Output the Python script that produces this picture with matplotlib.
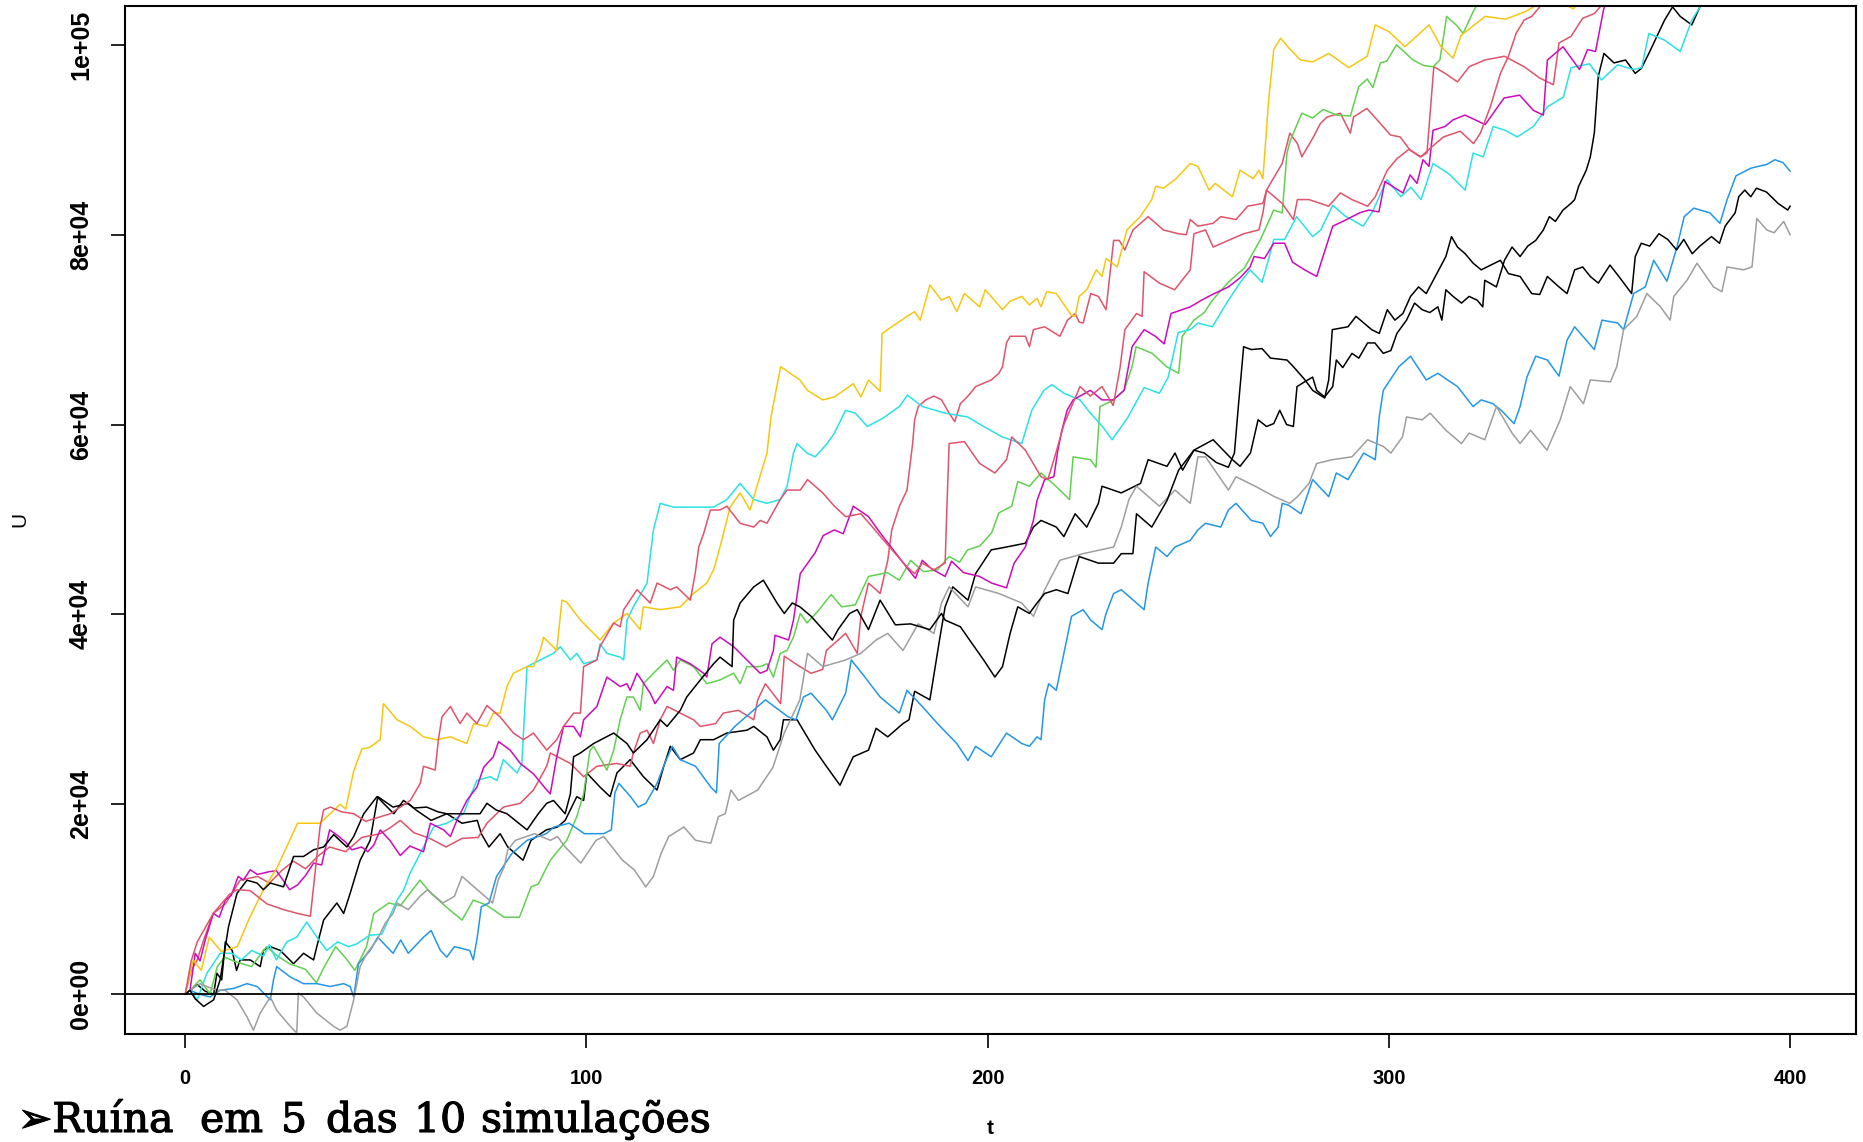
import numpy as np
import matplotlib
matplotlib.use("Agg")
import matplotlib.pyplot as plt
import matplotlib.patheffects as pe

# surplus paths U(t), U in thousands
black1 = [(0, 0), (1.2, 0.4), (3, 1), (5, 0.3), (7.1, 0), (7.9, 2.2), (9.1, 1.5), (10, 5.5), (11.7, 4.6),
          (12.8, 2.5), (13.7, 3.6), (16.2, 3.6), (18.7, 2.9), (19.5, 4.6), (21.2, 5), (23.7, 4.6), (27, 3.2),
          (29.5, 4.3), (32, 3.6), (32.8, 5), (34.5, 7.8), (37.8, 9.6), (39.5, 8.5), (41.1, 10.6), (43.6, 14.1),
          (46.1, 16.2), (48, 20.8), (51.8, 19.7), (55.6, 20.1), (57.5, 19.4), (61.3, 18.3), (65.2, 19), (69, 18),
          (72.8, 18.3), (73.8, 16.9), (75.7, 15.5), (78.5, 16.9), (80.4, 15.5), (84.2, 14.1), (86.2, 16.2),
          (90, 17.3), (92.8, 17.6), (94.7, 18.3), (97.6, 20.8), (99.3, 20.4), (100.1, 23.3), (103.4, 21.8),
          (105.9, 20.8), (107.6, 23.3), (110.9, 24.7), (114.2, 22.9), (117.6, 21.5), (119.2, 23.9), (120.9, 26.1),
          (123.4, 24.7), (126.7, 25.4), (128.4, 26.8), (131.7, 26.8), (135, 27.5), (140, 27.8), (141.7, 28.2),
          (145, 27.1), (146.6, 25.7), (148.3, 26.8), (149.1, 28.9), (152.5, 28.9), (157, 25.7), (159.8, 24),
          (163.2, 22), (164.6, 23.3), (166.5, 25), (170.3, 25.7), (172.2, 28), (175.1, 27.1), (178.9, 28.5),
          (180.4, 28.9), (181.8, 31.9), (185.6, 31), (188, 37.3), (189.4, 40.8), (191.3, 42.9), (195.1, 41.5),
          (197, 44.3), (200.9, 46.8), (204.7, 47.1), (209.4, 47.5), (211.4, 49.2), (213.3, 49.9), (217.1, 49.2),
          (219, 48.2), (221.8, 50.6), (224.7, 49.2), (227.6, 51.7), (228.5, 53.5), (233.3, 52.8), (238.1, 53.8),
          (240, 56.3), (244.7, 55.6), (246.7, 57), (248.6, 55.2), (251.4, 57.3), (256.2, 58.4), (261, 56.3),
          (262.9, 55.6), (265.5, 57), (267.4, 60.5), (269.5, 59.8), (271.3, 60.1), (272.8, 61.5), (274.5, 60),
          (276.2, 59.8), (277.1, 64), (279, 64.5), (281, 65), (282, 63.6), (284, 62.9), (286, 64), (286.9, 66.8),
          (288.5, 66), (290.8, 67.5), (292.5, 67), (294.7, 68.6), (296.5, 68.6), (298.6, 67.5), (300.5, 67.8),
          (302, 69.6), (304.4, 71), (306.4, 72.8), (308.3, 72.1), (310.2, 71.8), (312.2, 72.4), (313.2, 71),
          (314.2, 74.2), (316, 73.5), (318.1, 72.8), (320, 73.5), (322, 73.1), (323.4, 72.4), (323.9, 75.2),
          (326.8, 74.5), (328.8, 77.3), (330.7, 78.7), (332.7, 77.7), (334.6, 78.8), (336.6, 79.4), (338.5, 80.5),
          (340, 81.9), (341.5, 81.4), (343.4, 82.6), (345.4, 83.3), (346.3, 83.7), (347.3, 85.1), (349.2, 86.8),
          (350.2, 88.2), (351.2, 90.7), (352.2, 96.7), (353.6, 99.1), (356.1, 98.1), (359, 98.4), (361.4, 97),
          (362.9, 97.5), (364.8, 99.1), (366.8, 100.9), (368.7, 102.6), (370.7, 104), (372.6, 103),
          (375.5, 102.1), (377.5, 104), (380, 106)]

red1 = [(0, 0), (1.5, 2.5), (3, 3.6), (4.6, 5.7), (7, 8.5), (10, 9.5), (13.7, 12), (18, 12.4), (21, 11.7),
        (24, 13), (27, 14), (30, 13.2), (33, 14.5), (36, 15.5), (40, 15), (44, 16.5), (48.6, 16.9), (51, 17.5),
        (53.6, 18.3), (57, 17), (61, 16.4), (65, 15.5), (69, 16.4), (73, 16.5), (75.2, 18), (79.3, 19.7),
        (83.5, 20.1), (86.8, 21.5), (90.1, 24), (91, 25.4), (96, 24.3), (99.3, 22.9), (102.6, 24), (107.6, 24.3),
        (110.9, 24), (111.7, 25.4), (113.4, 27.5), (115.1, 27.8), (116.7, 26.4), (118.4, 28.9), (120.1, 30.3),
        (123.4, 29.6), (126.7, 28.9), (128.4, 28.2), (132.2, 28.5), (134.1, 29.6), (137.9, 29.9), (141.7, 28.9),
        (142.7, 31), (144.6, 32.7), (148.4, 30.6), (149.3, 35.6), (153.2, 34.5), (156, 33.8), (158.9, 34.2),
        (159.8, 36.2), (164.6, 38), (167.5, 35.9), (168.4, 39.8), (170.3, 43.3), (172.2, 42.6), (173.2, 42.2),
        (175.1, 45.7), (176.1, 48.9), (178, 51.4), (179.9, 53.1), (181.3, 58), (181.8, 60.5), (182.7, 61.9),
        (184.6, 62.6), (186.6, 63), (188.5, 62.6), (190.4, 61.2), (191.8, 60.3), (193.2, 62.2), (195.1, 63),
        (197, 64), (200.9, 64.7), (202.8, 65.4), (203.7, 66.1), (204.7, 68.6), (205.6, 69.3), (209.4, 69.3),
        (210.4, 68.2), (211.4, 70), (214.2, 70.3), (218, 69.3), (219.9, 71), (221.8, 71.7), (222.8, 70.8),
        (223.8, 70.7), (225.7, 73.8), (227.6, 73.5), (229.5, 72.1), (231.4, 79.4), (232.8, 79.4), (234.2, 78.4),
        (236.2, 80.5), (240, 81.9), (243.8, 80.5), (247.6, 80.1), (249.5, 80), (250.5, 81.6), (252.4, 80.9),
        (256.2, 81.2), (258.1, 81.9), (261.9, 81.6), (264.8, 83), (268.6, 83.3), (269.5, 84.7), (273.4, 87.5),
        (275.3, 90.7), (277.2, 89.6), (278.3, 88.2), (281.2, 90.3), (282.9, 91.7), (284.6, 92.4), (287.9, 92.8),
        (290.4, 90.7), (291.2, 92.4), (294.5, 93.3), (297.9, 91.7), (300.4, 90.5), (302.8, 90.3), (305.3, 88.9),
        (307.8, 88.2), (309.5, 88.6), (311.2, 97.7), (314, 97), (317.1, 96.1), (320, 97.7), (323.9, 98.4),
        (328.8, 98.8), (333.7, 97.7), (337.6, 96.5), (341, 95.8), (342.4, 100.2), (345.4, 100.9), (348.3, 102.8),
        (351.2, 103.3), (354.1, 104.7), (357, 107)]

green = [(0, 0), (1.2, 0.4), (3.7, 1.5), (6.2, 0), (8, 2.9), (9.8, 3.9), (12, 3.5), (16.5, 2.9), (20.3, 5),
         (23, 4), (26, 3.2), (30, 2.6), (32.7, 1.2), (34.7, 2.9), (37.5, 5), (40, 3.8), (42.3, 2.5), (45.2, 5),
         (47, 8.5), (50.8, 9.6), (53.6, 9.3), (58.5, 12), (61.3, 10.6), (65, 9.2), (69, 7.8), (71.8, 9.9),
         (75, 9.4), (79.5, 8.1), (83.3, 8.1), (86.2, 11.3), (88, 11.6), (91, 14.1), (93.7, 15.5), (95.1, 16.2),
         (97.6, 18.7), (99.3, 21.1), (100.9, 25.7), (101.8, 26.1), (105.1, 23.6), (106.8, 25.7), (108.4, 28.9),
         (110.1, 31.3), (111.7, 31.3), (113.4, 29.9), (114.2, 32.7), (116.7, 33.8), (120.1, 35.2), (121.7, 34.1),
         (123.4, 35.2), (126.7, 34.5), (130, 32.7), (133.3, 33.1), (136.7, 33.8), (138.3, 32.7), (140, 34.5),
         (143.3, 34.5), (145, 34.8), (146.6, 33.4), (148.3, 35.9), (150, 36.2), (151.6, 37.6), (153.3, 40.1),
         (155, 39.1), (158, 40.5), (161, 42.1), (163.6, 40.8), (167, 41), (170.3, 44), (175, 44.4), (178, 43.6),
         (180.8, 45.7), (184, 44.5), (187.5, 44.7), (190.4, 46.1), (193, 45.5), (195, 46.8), (198, 47.2),
         (201, 48.6), (202.8, 50.7), (206, 51.4), (207.5, 54), (210.4, 53.5), (213.3, 54.9), (217, 53.5),
         (220.4, 52.1), (221.3, 56.6), (225.6, 56.3), (227, 55.5), (228, 61.9), (231, 62.5), (234, 63.6),
         (236, 66.1), (237, 68.2), (241, 67.5), (244.6, 66.1), (247.6, 65.4), (248.5, 69.3), (251.4, 71),
         (254, 71.8), (256, 73.1), (260, 75), (264, 76.5), (268, 79.5), (271.3, 82.6), (273.4, 82.3),
         (274.6, 88.6), (275.4, 89.9), (278.3, 92.8), (281, 92.3), (283.6, 93.2), (287, 92.6), (290.4, 92.5),
         (292.5, 95.6), (294.6, 96.4), (296, 95.5), (297.9, 98.1), (299.5, 98.3), (301.9, 100), (304, 99.2),
         (306, 98.4), (308.8, 97.8), (311, 97.7), (312.7, 98.4), (314.4, 103), (317, 102), (318.5, 101.2),
         (321, 103.5), (323, 105), (326, 107)]

blue = [(0, 0), (1.2, 0.4), (3.5, 0), (6.2, -0.3), (8.7, 0.4), (12.1, 0.6), (15.4, 1.1), (17.9, 0.8),
        (21.2, -0.6), (22, 1.5), (22.8, 2.9), (26.2, 1.8), (29.5, 1.1), (32.8, 1.1), (36.1, 0.8), (39.5, 1.1),
        (41.1, 0.8), (42, -0.3), (43.2, 3.2), (46.1, 4.6), (48, 6), (51.8, 4.3), (53.7, 5.7), (55.6, 4.3),
        (59.4, 6), (61.3, 6.7), (63.6, 4.6), (65.2, 3.9), (67.1, 5), (70.9, 4.6), (71.8, 3.6), (72.8, 6),
        (73.8, 9.2), (75.7, 9.6), (77.6, 12.4), (81.4, 14.8), (85.2, 16.2), (90, 16.9), (91.9, 17.6), (95.7, 18),
        (99.5, 16.9), (104.3, 16.9), (106.2, 17.3), (107.1, 21.2), (108.1, 22.2), (111, 20.8), (112.9, 19.7),
        (114.8, 20.1), (117.6, 22.2), (119.5, 24.3), (121.4, 26.1), (123.4, 24.7), (127.2, 24), (131, 21.8),
        (132.4, 21.2), (133.1, 26.4), (137, 28.2), (140.8, 29.6), (144.6, 31), (150.3, 29.2), (152.2, 28.9),
        (154.1, 31.3), (156, 31.7), (159.8, 29.9), (161.3, 28.9), (164.6, 31.7), (166, 35.2), (169.4, 33.4),
        (173.2, 31.3), (178, 29.6), (179.9, 32), (183.7, 30.3), (187.5, 28.5), (192.3, 26.4), (195.1, 24.6),
        (197, 26.1), (200.9, 25), (204.7, 27.5), (208.5, 26.4), (210.4, 26.1), (212.3, 27.1), (213.3, 26.8),
        (214.2, 31), (215.2, 32.7), (217.1, 32), (219, 35.9), (220.9, 39.8), (223.8, 40.5), (225.7, 39.4),
        (228.5, 38.4), (229.5, 40.1), (231.4, 42.2), (233.3, 42.6), (239, 40.5), (240, 43.3), (241.9, 47.1),
        (244.7, 46.1), (246.7, 47.1), (250.5, 47.8), (252.4, 48.9), (254.3, 49.6), (258.1, 49.2), (260, 51),
        (261.9, 51.7), (265.7, 49.9), (268.6, 49.6), (270.5, 48.2), (272.4, 49.2), (273.4, 51.7), (275, 51.5),
        (278.1, 50.6), (281, 54.2), (285, 52.4), (286.9, 54.9), (289.8, 54.2), (293.7, 57), (296.6, 56.3),
        (297.6, 60.8), (298.6, 63.6), (302.5, 66.1), (305.4, 67.2), (309.3, 64.7), (312.2, 65.4), (317.1, 64),
        (321, 61.9), (323, 62.6), (325.9, 62.2), (328, 61.5), (331.2, 60.1), (332.7, 61.9), (334.4, 65),
        (336.6, 67.2), (339.5, 66.8), (342.4, 65.1), (344.4, 68.9), (346.3, 70.3), (351.2, 67.9), (353.1, 71),
        (357, 70.7), (358.5, 70), (361, 73.8), (363.9, 74.5), (366, 77.3), (369.3, 75.1), (371.8, 78.7),
        (373.6, 81.9), (376, 82.8), (380, 82.3), (382.5, 81.2), (384.3, 83.7), (386.5, 86.2), (390.2, 87),
        (392.1, 87.2), (394.2, 87.4), (396.2, 87.9), (398.2, 87.6), (400, 86.7)]

cyan = [(0, 0), (1.2, 0.4), (3, -0.6), (5.4, 2.2), (7, 3.2), (8.7, 4.3), (11.6, 4.3), (14, 3.6), (16.6, 4.6),
        (19.5, 4), (21, 5.2), (22.7, 3.6), (25.3, 5.5), (27.8, 6), (30.3, 7.6), (32.8, 6), (35.3, 4.6),
        (38, 5.5), (40.7, 5), (42.8, 5.3), (46, 6.2), (49, 6.3), (52.8, 9.9), (54.5, 11), (56, 12.7),
        (59.4, 15.5), (61.9, 17.6), (65.2, 18), (69.4, 19), (71, 20.8), (72.7, 22.5), (76, 22.9), (77.7, 22.5),
        (79.3, 24.7), (82.7, 23.3), (83.9, 24.3), (84.3, 27.5), (85.2, 34.5), (88.5, 35.2), (91.8, 35.9),
        (93.5, 36.6), (96, 35.2), (97.6, 35.9), (99.3, 34.8), (102.6, 35.2), (103.4, 36.9), (105.1, 35.9),
        (108.4, 35.5), (109.3, 35.2), (110.1, 39.4), (111.7, 40.8), (115.1, 43.3), (116.7, 48.9), (118.4, 51.7),
        (121.7, 51.3), (125, 51.3), (128.4, 51.3), (131.7, 51.3), (135, 52.1), (138.3, 53.8), (141.7, 52.1),
        (145, 51.7), (148.3, 52.1), (150, 53.5), (151.6, 57), (152.5, 58), (155, 57), (157, 56.6), (160, 58),
        (161.8, 59.1), (164.6, 61.5), (167, 61.2), (170, 59.8), (174, 60.7), (178, 61.9), (180, 63.1),
        (183.7, 61.9), (189.4, 61.2), (195, 60.8), (199, 59.8), (203.6, 58.7), (208.5, 58), (211, 61.5),
        (214, 63.6), (216, 64.2), (219, 63.3), (223, 62.6), (225.6, 61.2), (228.6, 59.8), (231, 58.4),
        (235, 60.8), (239, 63.9), (242.8, 63.3), (245, 65), (247.5, 69.7), (250.5, 70), (252.4, 70.7),
        (256, 70.3), (260, 73.1), (263, 75), (265.4, 76.3), (268.4, 75), (270, 77.4), (271.3, 79.5), (274, 79.5),
        (277, 81.9), (281, 79.8), (283, 80.5), (286, 83.1), (289, 82), (293.6, 80.9), (296, 82.5), (299.5, 85.8),
        (303, 84), (305.5, 85), (308, 83.7), (311, 87.5), (315, 86.4), (319, 84.7), (321, 88.6), (323.5, 88.2),
        (326, 91.4), (329, 91), (332, 90.3), (336, 91.4), (339.6, 93.5), (343.5, 94.5), (345.4, 97.6), (350, 98),
        (353, 96.3), (357, 97.9), (361, 97.4), (363, 97.6), (364.8, 101.2), (368.7, 100.5), (372.6, 99.3),
        (375.5, 102.6), (378, 104.3), (381, 107)]

magenta = [(0, 0), (1.2, 0.4), (2.5, 4.3), (3.7, 3.5), (5, 5.7), (7, 8.5), (8.5, 8.1), (10, 9.9), (11.5, 10.4),
           (13.2, 12.4), (14.5, 12), (16.2, 13.1), (18, 12.6), (21, 12.9), (22.7, 13), (24.4, 12), (26, 11),
           (28, 11.5), (30, 12.5), (32, 13.8), (34, 13.6), (36, 17.3), (38, 16.7), (40, 16), (41.5, 15.2),
           (44, 15.5), (45.5, 15), (47, 15.7), (48.6, 17.3), (51, 16.2), (53.6, 14.6), (56, 15.6), (59.4, 15),
           (61.1, 18), (64.4, 17.3), (66.1, 16.6), (67.7, 18.3), (70.2, 20.4), (72.7, 21.8), (74.4, 23.9),
           (76.8, 25), (78.1, 26.6), (81, 25.7), (83.5, 24.3), (86.8, 23.2), (90.1, 21.5), (91, 21.1), (92.6, 25),
           (94.3, 28.2), (96.8, 28.2), (98.5, 27.1), (99.3, 28.9), (102.6, 30.3), (104.3, 32.4), (105.1, 33.4),
           (108.4, 32.4), (110.1, 32.7), (110.9, 32), (112.6, 33.8), (115.9, 31.7), (117.1, 30.6), (120.1, 32.4),
           (121.7, 32), (122.5, 35.5), (125.9, 34.8), (129.2, 33.8), (130, 33.4), (131.3, 36.9), (133.3, 37.6),
           (136.7, 36.6), (140, 35.2), (143.3, 33.8), (145, 34.1), (146.6, 36.2), (147, 37.8), (150.4, 37.3),
           (151.6, 39.4), (153.3, 44.3), (157, 46.5), (159, 48.3), (161.8, 48.9), (164, 48.5), (166.5, 51.4),
           (170.3, 50.3), (173.2, 48.6), (177, 46.5), (180.3, 44.7), (182, 43.8), (183.7, 45.7), (186, 44.8),
           (189.4, 44), (191, 45.6), (194, 44.4), (198, 44), (201, 43.3), (204.7, 42.8), (206.6, 45.4),
           (209.4, 47.1), (211.4, 49.9), (212.3, 52), (214.2, 54.2), (216.5, 54.5), (217.5, 57.3), (218.5, 59.4),
           (219.8, 61.5), (221.3, 62.6), (223, 63), (225.6, 63.6), (228.5, 62.6), (231.3, 62.6), (234, 63.6),
           (236, 68.2), (239, 70), (241.8, 69.3), (244, 68.5), (245.7, 71.7), (250.5, 72.4), (253.3, 73.1),
           (256, 73.7), (260, 74.5), (263, 75.5), (265.4, 76.6), (266.4, 77.7), (269, 77.5), (271.3, 79.1),
           (274, 79.1), (276, 77.1), (279, 76.3), (282, 75.6), (286, 80.9), (289, 81.5), (292.7, 82.3), (295, 82.6),
           (297.5, 82.4), (299, 85.6), (303.5, 84.4), (305.3, 86.3), (307, 85.4), (308.5, 87.9), (310, 87.2),
           (311, 91), (314, 91.4), (316, 92.1), (319, 92.6), (322, 92), (324, 91.6), (328.7, 94.4), (332.6, 94.7),
           (336, 93.1), (338.5, 92.6), (339.5, 98.4), (343.4, 99.8), (346.5, 98), (347.5, 97.4), (349.5, 99.5),
           (351.5, 99.3), (353.5, 103.7), (356, 107)]

yellow = [(0, 0), (2, 3.6), (4, 2.5), (6, 6), (9, 4.5), (13, 5), (16, 8), (19.5, 11), (23, 13.4), (28, 18),
          (33.6, 18), (38.6, 20), (40, 19.5), (42, 23.5), (44, 25.8), (46, 26), (48.6, 26.8), (49.4, 30.6),
          (52.8, 28.9), (56.1, 28.2), (59.4, 27.1), (62.7, 26.8), (66.1, 27.1), (70.2, 26.4), (71.9, 28.5),
          (75.2, 28.2), (76.8, 29.6), (78.5, 29.6), (80.2, 32.4), (81.8, 33.8), (85.2, 34.5), (86.8, 34.5),
          (88.5, 36.2), (89.3, 37.6), (92.6, 36.2), (93.9, 41.5), (95.1, 41.3), (98.5, 39.4), (101.8, 38),
          (103.4, 37.3), (106.8, 39.1), (110.1, 40.1), (113.4, 38.4), (114.2, 40.8), (118.4, 40.5), (123.4, 40.8),
          (126.7, 42.2), (130, 43.3), (131.7, 44.7), (133.3, 47.1), (135.8, 51.3), (138.3, 52.8), (140.8, 51),
          (142.5, 53.5), (145, 57), (146, 60.8), (148.4, 66.1), (153.2, 64.7), (155.1, 63.6), (158.9, 62.6),
          (161.8, 62.9), (166.5, 64.3), (168.4, 62.9), (170.3, 64.7), (173.2, 63.5), (173.7, 69.6), (176.1, 70.3),
          (179.9, 71.4), (181.8, 71.9), (183.2, 71), (185.6, 74.7), (188.5, 73.1), (190.4, 73.5), (192.3, 71.9),
          (194.2, 73.8), (198, 72.4), (199.4, 74.2), (203.7, 72.1), (205.6, 73), (208.5, 73.5), (210.4, 72.6),
          (212.3, 73.3), (213.3, 72.4), (214.7, 74), (217.1, 73.8), (220.9, 71.5), (221.8, 71.4), (222.8, 73.5),
          (224.7, 74.2), (227.1, 76.3), (228.5, 75.6), (229.5, 77.5), (232.3, 76.6), (234.7, 80.5), (238, 81.9),
          (240.9, 83.7), (241.9, 85.1), (243.8, 84.9), (246.7, 85.8), (250.5, 87.5), (252.4, 87.2), (255.2, 84.7),
          (256.7, 85.4), (261, 84), (262.9, 86.8), (266.2, 85.9), (267.6, 86.8), (268.6, 85.9), (270, 94),
          (271.3, 99.5), (273, 100.7), (275, 99.7), (278, 98.4), (281, 98.2), (285, 99.1), (290, 97.6),
          (294.6, 98.8), (296.6, 102.1), (300, 101.4), (304, 99.8), (310, 102.1), (313, 99.8), (316, 98.6),
          (318, 101), (324, 103), (329, 102.7), (334, 103.5), (340, 105), (346, 103.8), (350, 106)]

gray = [(0, 0), (1.2, 0.4), (3.7, 1.1), (5.4, 0.8), (7.9, 0.4), (10, 0.4), (12.9, -0.6), (15.4, -2.4),
        (17, -3.8), (18.7, -2), (21.2, -0.3), (22.8, -1.7), (26.2, -3.4), (27.8, -4.1), (28.2, 0.1), (29.5, -0.3),
        (32.8, -2), (37, -3.4), (38.6, -3.8), (40.3, -3.4), (42, -0.6), (43.6, 2.9), (45.3, 4.3), (47.8, 5.7),
        (49.9, 7.5), (51.8, 8.5), (52.8, 9.6), (55.6, 8.9), (58.5, 10.3), (60.4, 11), (64.2, 9.6), (67.1, 10.3),
        (69, 12.4), (72.8, 11), (76.6, 9.6), (78, 12), (79.5, 13.4), (80.4, 15.2), (82.3, 16.2), (87.1, 16.9),
        (91, 16.2), (92.8, 16.6), (94.7, 15.5), (98.6, 13.8), (102.4, 16.2), (104.3, 16.6), (109, 14.1),
        (111.9, 13.1), (114.8, 11.3), (116.7, 12.4), (118.6, 14.8), (120.5, 16.6), (124.3, 17.6), (127.2, 16.2),
        (131, 15.9), (132.9, 18.7), (134.6, 19), (136, 21.5), (137.9, 20.4), (142.7, 21.5), (146.5, 23.9),
        (149.3, 27.5), (153.2, 31), (155.1, 35.9), (158.9, 34.5), (164.6, 35.2), (168.4, 35.9), (172.2, 37.3),
        (175.1, 38), (178.9, 36.2), (182.7, 39), (186.6, 38), (188.5, 41.2), (190.4, 42.9), (195.1, 40.8),
        (197, 42.9), (202.8, 42.2), (208.5, 41.2), (211.4, 39.8), (214.2, 42.6), (218, 45.7), (223.8, 46.4),
        (231.4, 47.1), (233.3, 49.2), (235.2, 52.1), (237.1, 53.5), (242.8, 51.4), (246.7, 53.1), (250.5, 51.7),
        (252.4, 56.6), (254.3, 56.6), (260, 53.1), (261.9, 54.5), (266.7, 53.5), (271.5, 52.4), (275.3, 51.7),
        (277.2, 52.4), (280.1, 53.8), (282, 55.9), (285.9, 56.3), (290.8, 56.6), (294.7, 58.4), (298.6, 57.7),
        (300.5, 57), (303.4, 58.7), (304.4, 60.8), (308.3, 60.5), (310.3, 61.2), (314.2, 59.4), (318.1, 58),
        (320, 59.1), (323.9, 58.4), (326.8, 61.9), (330.7, 59.1), (332.7, 58), (335.3, 59.4), (339.4, 57.3),
        (342.7, 60.5), (345.2, 64), (348.5, 62.2), (350.2, 64.7), (355.2, 64.5), (356.8, 66.1), (358.5, 70),
        (361.8, 71.4), (364.3, 73.8), (367.7, 72.4), (370.1, 71), (371, 73.5), (374.3, 75.2), (376.8, 77),
        (380.9, 74.5), (383, 74), (384.3, 76.6), (388.4, 76.3), (390.5, 76.6), (391.7, 81.7), (394.2, 80.5),
        (396, 80.2), (398.4, 81.4), (400, 80)]

black2 = [(0, 0), (1.2, 0.4), (2.5, -0.5), (4.6, -1.3), (7.1, -0.6), (8.7, 1.5), (10.8, 7.1), (12.9, 10.6),
          (15.4, 12), (17.9, 11.7), (19.5, 11), (21.2, 11.7), (24.5, 11.3), (27, 14.5), (29.5, 14.5), (32, 15.2),
          (34.5, 15.5), (37, 16.8), (40.3, 15.5), (42, 16.6), (44.5, 19), (47.8, 20.8), (52, 19), (54.4, 20.4),
          (57, 19.6), (60.2, 19.7), (63, 19.2), (65.2, 19), (69.4, 19), (73.5, 19), (75.2, 20.1), (77.5, 19.4),
          (80.2, 19), (85.2, 17.3), (88, 19), (90.1, 20.1), (91.8, 20.4), (94.7, 19), (96, 21.1), (96.8, 25),
          (98.5, 25.4), (101.8, 26.4), (106.8, 27.5), (110.1, 26.4), (111.7, 25.4), (115.1, 26.8), (118.4, 28.9),
          (120.1, 28.2), (123.4, 29.9), (125, 31.3), (128.4, 33.1), (131.7, 34.8), (133.3, 35.5), (136.3, 34.5),
          (136.7, 39.4), (138.3, 41.2), (141.7, 42.9), (144.1, 43.6), (147.5, 41.2), (149.3, 40.1), (151.3, 41.2),
          (153.2, 40.8), (156, 39.8), (161.3, 37.3), (162.7, 38.4), (165.6, 40.1), (167.5, 40.5), (170.3, 38.4),
          (173.2, 41.5), (177, 38.9), (180.8, 39), (185.6, 38.4), (188.5, 40.1), (189.4, 39.4), (193.2, 38.7),
          (196, 37), (199, 35.2), (201.8, 33.4), (203.7, 34.5), (205.6, 38), (207.5, 40.8), (210.4, 40.1),
          (212.3, 41.2), (214.2, 42.2), (217.1, 42.6), (220, 42.2), (222.8, 46.1), (227.6, 45.4), (231.4, 45.4),
          (233.3, 46.4), (236.2, 46.4), (237.1, 50.6), (240.9, 49.2), (244.7, 52), (247.6, 55.2), (251.4, 57.3),
          (254, 57), (257, 56), (260, 55.5), (261.5, 57), (262.5, 62), (263.8, 68.2), (265.7, 67.9), (268.4, 68),
          (270.5, 67), (274.6, 66.8), (276.2, 66.1), (279.1, 64.7), (281, 63.6), (284, 62.8), (285, 64.7),
          (285.9, 70), (289.8, 70.3), (291.8, 71.4), (295.7, 70), (297.6, 69.6), (299.6, 72.1), (301.5, 71),
          (303.5, 71.7), (305.4, 73.5), (307.4, 74.5), (309.3, 73.8), (314.2, 77.7), (315.6, 79.8), (317.1, 78.7),
          (319, 78), (321, 77), (323, 76.3), (327.8, 77.3), (329.8, 75.9), (332.7, 75.6), (335.6, 73.8),
          (337.6, 73.7), (339.5, 75.6), (342.4, 74.5), (344.4, 73.8), (346.3, 76.3), (348.3, 76.6), (350.2, 75.6),
          (352.2, 74.9), (355.1, 76.8), (357.5, 75.5), (360.5, 73.8), (361.4, 77.7), (362.9, 79.1), (365, 78.8),
          (367.3, 80.1), (369.5, 79.5), (371.7, 78.4), (373.5, 79.5), (375.6, 78), (377.5, 78.8), (380.4, 79.8),
          (382.4, 79.1), (383.8, 80.9), (386.3, 82.3), (387.2, 84), (388.7, 84.7), (390.2, 84), (391.6, 84.9),
          (394.1, 84.5), (397, 83.3), (399.4, 82.6), (400, 83)]

red2 = [(0, 0), (1.5, 3.5), (3, 5.5), (5, 7), (7, 8.5), (9, 9.5), (11, 10.5), (13, 11), (16.2, 10.9),
        (20.4, 9.5), (24.5, 8.9), (28, 8.5), (31.2, 8.2), (33.6, 17.6), (34.5, 19.4), (36.2, 19.7), (39, 19.2),
        (42, 19), (45, 18.2), (48, 18.6), (51.1, 19), (56.1, 20.4), (58.6, 22.2), (59.4, 24), (62.3, 23.6),
        (63.1, 26.8), (64, 29.2), (66.1, 30.3), (68.5, 28.5), (70.2, 29.6), (72.7, 28.5), (75.2, 30.4),
        (78.5, 29.2), (81.8, 27.5), (84.3, 26.8), (86.8, 27.5), (90.1, 25.7), (92.6, 26.8), (94.3, 28.2),
        (96.8, 29.6), (98.5, 29.6), (99.3, 34.5), (102.6, 35.2), (103.4, 36.6), (106.8, 39.1), (108.4, 38.7),
        (109.3, 40.5), (112.6, 42.6), (115.9, 41.2), (117.6, 43.3), (120.9, 42.6), (122.5, 42.9), (125.9, 41.5),
        (127.1, 44.3), (128, 47.1), (129.2, 48.5), (130.9, 51), (133.3, 51), (135, 51.4), (138.3, 49.6),
        (141.7, 49.2), (143.3, 49.9), (145, 49.6), (148.3, 52.1), (150, 53.1), (153.3, 53.1), (155.1, 54.2),
        (158.9, 52.8), (161.8, 51.4), (164.6, 50.3), (168.4, 50.6), (171.3, 49.2), (174.1, 47.8), (177, 46.4),
        (179.9, 45), (181.8, 44.3), (183.7, 45.4), (186.6, 44.7), (189.4, 45.4), (189.9, 52), (190.4, 58),
        (194.2, 58.2), (198, 55.9), (201.8, 54.9), (204.7, 56.3), (206, 58.7), (209.4, 57.3), (213.3, 54.5),
        (215, 54.2), (217, 57), (219, 60), (221, 62), (223, 64), (225.6, 63), (228.5, 64), (231.3, 62),
        (233, 66), (234.2, 70), (237.1, 71.7), (238.5, 71.4), (239, 76.1), (242.8, 74.9), (246.6, 74.2),
        (250.5, 76.3), (251.4, 80.1), (254.3, 80.5), (256.2, 78.7), (260, 79.4), (263.8, 80.1), (267.6, 80.5),
        (268.6, 82.3), (269.5, 84.7), (273.4, 83.3), (276.2, 81.6), (277.2, 83.7), (280.1, 83.7), (285, 83),
        (287.9, 84.4), (290.8, 83.7), (294.7, 83), (296.6, 84), (299.6, 86.8), (302, 88), (305, 89), (308, 88.2),
        (310, 89), (313.6, 90.3), (317.8, 90.9), (321.1, 89.6), (322.8, 90.7), (325.3, 93.5), (327.8, 97),
        (329.8, 98.8), (331.7, 101.2), (333.7, 102.6), (335.6, 103), (337.6, 104), (340, 106)]

# R default palette, same order as matplot draws the columns
series = [black1, red1, green, blue, cyan, magenta, yellow, gray, black2, red2]
colors = ["#000000", "#DF536B", "#61D04F", "#2297E6", "#28E2E5",
          "#CD0BBC", "#F5C710", "#9E9E9E", "#000000", "#DF536B"]

x_ticks = [0, 100, 200, 300, 400]
y_ticks = [0, 20000, 40000, 60000, 80000, 100000]
y_labels = ["0e+00", "2e+04", "4e+04", "6e+04", "8e+04", "1e+05"]

note_words = ["\u27a2Ruína", "em", "5", "das", "10", "simulações"]
note_x_px = [18, 200, 281, 326, 414, 481]   # left edge of each word, figure pixels

fig = plt.figure(figsize=(18.63, 11.42), dpi=100)
ax = fig.add_axes([0.0671, 0.0946, 0.9291, 0.9002])

for pts, col in zip(series, colors):
    t, u = np.array(pts).T
    ax.plot(t, u * 1000, color=col, lw=1.1)

ax.axhline(0, color="black", lw=1.3)

ax.set_xlim(-15, 416.4)
ax.set_ylim(-4200, 104100)

for s in ax.spines.values():
    s.set_linewidth(1.5)
    s.set_color("black")

ax.set_xticks(x_ticks)
ax.set_xticklabels([str(v) for v in x_ticks], fontfamily="Liberation Sans",
                   fontweight="bold", fontsize=14.5)
ax.set_yticks(y_ticks)
ax.set_yticklabels(y_labels, fontfamily="Liberation Sans", fontweight="bold",
                   fontsize=18, rotation=90, va="center")
ax.tick_params(axis="both", direction="out", length=10, width=1.2)
ax.tick_params(axis="x", pad=15)
ax.tick_params(axis="y", pad=13)

fig.text(20 / 1863, 1 - 519 / 1142, "U", rotation=90, ha="center", va="center",
         fontfamily="Liberation Sans", fontsize=15)
fig.text(990 / 1863, 1 - 1129 / 1142, "t", ha="center", va="center",
         fontfamily="Liberation Sans", fontweight="bold", fontsize=15)

# the note under the plot is typeset with wide word spacing, slightly heavier strokes
heavy = [pe.withStroke(linewidth=0.8, foreground="black")]
for word, xp in zip(note_words, note_x_px):
    fig.text(xp / 1863, 10 / 1142, word, fontfamily=["DejaVu Serif", "DejaVu Sans"],
             fontsize=29.5, va="baseline", ha="left", path_effects=heavy)

fig.savefig("out.png", dpi=100)
